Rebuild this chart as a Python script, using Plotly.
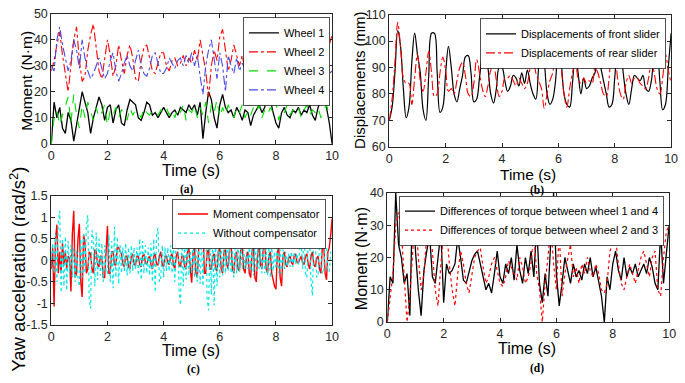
import plotly.graph_objects as go

# ---------------- data ----------------
time_s = [round(i * 0.1, 1) for i in range(101)]
time_fine = [round(i * 0.05, 2) for i in range(201)]
x_ticks = [0, 2, 4, 6, 8, 10]

# (a) wheel moments, N·m
wheel1 = [0, 16, 10, 14, 6, 4, 12, 9, 1, 7,
          14, 20, 16, 12, 4, 10, 14, 18, 15, 9,
          14, 15, 8, 13, 15, 8, 7, 13, 17, 16,
          15, 10, 9, 12, 16, 15, 11, 12, 10, 12,
          14, 12, 10, 12, 13, 11, 14, 13, 12, 15,
          13, 15, 11, 16, 2, 12, 20, 17, 10, 6,
          15, 19, 14, 12, 13, 10, 14, 12, 9, 13,
          12, 7, 11, 13, 15, 12, 14, 20, 17, 12,
          8, 6, 12, 14, 11, 10, 13, 12, 14, 11,
          13, 12, 15, 11, 9, 14, 17, 19.5, 14, 8, 0]
wheel2 = [28, 32, 38, 43, 34, 26, 20, 30, 40, 45,
          32, 24, 26, 36, 42, 46, 38, 28, 25, 33,
          40, 34, 26, 30, 38, 32, 27, 34, 38, 33,
          25, 24, 32, 37, 38, 33, 28, 27, 31, 35,
          35, 30, 28, 32, 33, 30, 31, 34, 30, 33,
          31, 36, 32, 40, 34, 28, 18, 30, 36, 32,
          41, 44, 36, 28, 32, 38, 34, 30, 34, 28,
          31, 36, 32, 28, 30, 34, 36, 30, 22, 24,
          28, 32, 34, 30, 26, 28, 30, 33, 30, 28,
          30, 35, 32, 29, 27, 32, 30, 23, 30, 38, 42]
wheel3 = [0, 10, 13, 7, 11, 15, 18, 8, 19, 11,
          6, 15, 10, 16, 12, 9, 14, 10, 12, 15,
          7, 13, 11, 14, 10, 13, 12, 9, 14, 11,
          13, 12, 10, 14, 12, 11, 13, 12, 11, 13,
          12, 14, 11, 13, 10, 14, 12, 15, 9, 13,
          12, 15, 10, 14, 11, 16, 8, 15, 12, 17,
          10, 14, 11, 15, 12, 10, 14, 12, 15, 10,
          13, 11, 14, 12, 15, 10, 13, 11, 14, 12,
          16, 9, 13, 12, 15, 11, 13, 12, 14, 10,
          13, 15, 11, 13, 12, 14, 10, 13, 15, 11, 12]
wheel4 = [30, 28, 40, 45, 38, 33, 28, 32, 40, 36,
          29, 40, 33, 28, 25, 27, 30, 33, 29, 25,
          27, 32, 35, 28, 24, 27, 31, 34, 30, 28,
          32, 36, 30, 27, 26, 29, 34, 35, 31, 27,
          27, 29, 33, 31, 29, 32, 33, 30, 34, 31,
          35, 30, 34, 26, 19, 30, 36, 40, 33, 25,
          35, 30, 20, 34, 30, 27, 33, 28, 31, 29,
          32, 35, 30, 33, 36, 30, 27, 24, 29, 22,
          27, 31, 28, 26, 30, 32, 28, 30, 27, 29,
          31, 28, 26, 30, 27, 25, 30, 33, 28, 27, 28]

# (b) slider displacements, mm
front_slider = [70, 75, 88, 104, 98, 82, 71, 75, 92, 103,
                95, 88, 74, 70, 87, 103, 103, 88, 73, 75,
                88, 98, 90, 80, 77, 82, 87, 94, 94.5, 88,
                77, 78, 86, 94, 96.5, 90, 80, 76.5, 82, 90,
                90, 85, 81, 83, 87, 86, 83, 88, 84, 89,
                84, 80, 78, 90, 98, 92, 80, 76, 78, 85,
                99, 92, 80, 76, 75, 84, 96, 88, 80, 86,
                82, 83, 86, 88, 93, 90, 85, 80, 75, 76,
                86, 96, 97, 88, 80, 76, 82, 87, 86, 85,
                87, 82, 81, 85, 94, 96, 85, 74, 76, 90, 103]
rear_slider = [70, 78, 92, 107, 98, 86, 84, 84, 76, 86,
               95, 85, 81, 88, 96, 88, 79, 80, 88, 94,
               89, 81, 82, 80, 85, 90, 92, 87, 80, 79,
               84, 93, 88, 82, 79, 83, 89, 91, 85, 79,
               81, 86, 86, 87, 85, 83, 86, 84, 82, 84,
               90, 94, 88, 85, 82, 74.5, 80, 85, 88, 98,
               100, 90, 80, 75, 82, 88, 92, 86, 84, 86,
               84, 85, 84, 90, 88, 84, 80, 79, 86, 95,
               94, 86, 80, 78, 84, 87, 84, 86, 86, 84,
               83, 82, 86, 92, 88, 82, 80, 86, 95, 89, 84]

# (c) yaw acceleration, rad/s^2 (sampled every 0.05 s)
yaw_compensator = [-0.2, 0.3, -1.07, 0.5, 0.83, -0.3, 0.2, -0.3, 0.4, -0.1,
                   0.2, -0.2, 0.1, 0.05, -0.72, 0.6, 1.15, -0.4, -0.3, 0.5,
                   0.85, -0.5, -0.85, 0.6, 0.4, -0.3, -0.2, 0.2, 0.15, -0.2,
                   -0.3, 0.25, 0.2, -0.1, -0.15, 0.1, 0.1, -0.4, -0.4, 0.3,
                   0.8, -0.3, -0.3, 0.2, 0.2, -0.1, -0.1, 0.3, 0.3, 0.2,
                   0.15, -0.1, -0.15, 0.1, 0.1, -0.15, -0.2, 0.1, 0.15, -0.1,
                   -0.1, 0.1, 0.1, -0.1, -0.15, 0.1, 0.15, -0.05, -0.1, 0.05,
                   0.1, -0.1, -0.2, 0.1, 0.15, -0.1, -0.1, 0.1, 0.2, -0.1,
                   -0.15, 0.1, 0.1, -0.05, -0.1, 0.1, 0.15, -0.1, -0.2, 0.1,
                   0.2, -0.1, -0.15, 0.1, 0.1, -0.15, -0.2, 0.2, 0.3, -0.2,
                   -0.52, 0.2, 0.3, -0.3, -0.4, 0.3, 0.4, 0.6, 0.87, -0.3,
                   -0.3, 0.2, 0.25, -0.2, -0.2, 0.1, 0.15, -0.2, -0.25, 0.2,
                   0.3, -0.2, -0.3, 0.2, 0.25, -0.1, -0.2, 0.3, 0.4, -0.2,
                   -0.3, 0.15, 0.2, -0.2, -0.25, 0.3, 0.35, -0.2, -0.3, 0.1,
                   0.2, -0.3, -0.4, 0.2, 0.3, -0.4, -0.5, 0.2, 0.3, -0.1,
                   -0.2, 0.3, 0.45, -0.2, -0.3, 0.1, 0.2, -0.3, -0.5, -0.6,
                   -0.67, 0.2, 0.3, -0.4, -0.6, 0.1, 0.2, -0.1, -0.15, 0.05,
                   0.1, -0.05, -0.1, 0.1, 0.15, -0.05, -0.05, 0.05, 0.1, -0.05,
                   -0.1, 0.1, 0.15, -0.1, -0.2, 0.1, 0.2, -0.1, -0.15, 0.05,
                   0.1, -0.2, -0.3, 0.3, 0.4, -0.3, -0.45, 0.2, 0.3, 0.6, 0.97]
yaw_without = [0, 0.4, -0.3, 0.6, -0.5, 0.9, 1.15, -0.75, 0.5, -0.6,
               0.55, -0.7, 0.45, -0.3, 0.35, -0.4, 0.3, -0.5, 0.25, -0.4,
               -0.6, 0.5, -0.4, 0.6, -0.3, 0.8, 1.05, -0.9, -1.12, 0.7,
               0.5, -0.6, 0.65, -0.45, 0.5, -0.35, 0.4, -0.5, 0.35, -0.3,
               -0.3, 0.6, -0.5, 0.45, -0.65, 0.78, -0.4, 0.55, -0.55, 0.35,
               -0.3, 0.3, -0.25, 0.4, -0.35, 0.3, -0.3, 0.35, -0.25, 0.3,
               -0.2, 0.3, -0.35, 0.5, -0.45, 0.45, -0.3, 0.35, -0.3, 0.3,
               -0.35, 0.4, -0.5, 0.5, -0.74, 0.6, 0.75, -0.5, -0.4, 0.35,
               -0.4, 0.3, -0.25, 0.3, -0.25, 0.35, -0.3, 0.4, -0.5, 0.6,
               0.86, -0.7, -1.04, 0.55, -0.6, 0.5, -0.45, 0.4, -0.35, 0.3,
               -0.3, 0.35, -0.4, 0.3, -0.5, 0.45, -0.55, 0.5, -0.6, 0.7,
               0.75, -0.9, -1.16, 0.6, -0.8, 0.55, -1.05, 0.45, -0.6, 0.4,
               -0.4, 0.45, -0.35, 0.4, -0.3, 0.35, -0.25, 0.3, -0.3, 0.25,
               -0.4, 0.35, -0.3, 0.35, -0.25, 0.3, -0.2, 0.25, -0.2, 0.2,
               -0.2, 0.3, -0.25, 0.35, -0.35, 0.4, -0.25, 0.35, -0.2, 0.3,
               -0.3, 0.25, -0.3, 0.35, -0.35, 0.3, -0.4, 0.3, -0.25, 0.2,
               -0.2, 0.35, -0.3, 0.25, -0.3, 0.25, -0.2, 0.2, -0.15, 0.15,
               -0.15, 0.2, -0.15, 0.2, -0.1, 0.15, -0.1, 0.3, 0.4, -0.2,
               0.85, -0.3, -0.4, 0.4, 0.5, -0.5, -0.82, 0.6, 0.45, -0.4,
               -0.35, 0.4, 0.4, -0.3, -0.3, 0.35, 0.35, -0.25, -0.25, 0.2, 0.1]
yaw_tickvals = [-1.5, -1, -0.5, 0, 0.5, 1, 1.5]
yaw_ticktext = ["-1.5", "-1", "-0.5", "0", "0.5", "1", "1.5"]

# (d) torque differences, N·m
diff_14 = [0, 14, 12, 40, 24, 20, 12, 15, 2, 39,
           22, 10, 2, 16, 22, 27, 14, 12, 20, 28,
           6, 18, 15, 16, 18, 26, 20, 13, 12, 16,
           19, 21, 22, 18, 14, 10, 12, 9, 15, 22,
           14, 12, 18, 15, 20, 13, 24, 16, 12, 20,
           15, 22, 14, 30, 12, 6, 15, 8, 25, 40,
           15, 5, 12, 20, 16, 12, 18, 14, 16, 13,
           18, 15, 20, 14, 17, 12, 8, 0, 14, 10,
           18, 22, 16, 13, 20, 14, 17, 15, 18, 14,
           16, 18, 15, 20, 17, 12, 10, 28, 12, 22, 30]
diff_23 = [0, 8, 15, 30, 34, 28, 15, 0, 8, 22,
           35, 20, 10, 15, 27, 30, 22, 10, 5, 18,
           28, 30, 18, 10, 5, 15, 22, 18, 12, 9,
           15, 20, 22, 23, 17, 12, 14, 18, 20, 16,
           12, 11, 14, 19, 17, 15, 13, 20, 17, 12,
           14, 18, 28, 15, 10, 0, 12, 20, 30, 18,
           10, 28, 8, 15, 20, 24, 14, 17, 12, 18,
           15, 20, 16, 14, 18, 15, 10, 9, 12, 22,
           24, 26, 18, 12, 10, 14, 18, 15, 12, 16,
           20, 22, 18, 14, 20, 22, 10, 8, 20, 28, 30]

# ---------------- styling ----------------
W, H = 685, 383
FONT = "Liberation Sans, Arial, sans-serif"
INK = "#262626"


def fx(px):
    return px / W


def fy(py):
    return 1 - py / H


fig = go.Figure()

# (a)
fig.add_trace(go.Scatter(x=time_s, y=wheel1, name="Wheel 1", mode="lines",
                         line=dict(color="black", width=1.3), xaxis="x", yaxis="y", legend="legend"))
fig.add_trace(go.Scatter(x=time_s, y=wheel2, name="Wheel 2", mode="lines",
                         line=dict(color="#ff0000", width=1.1, dash="dashdot"), xaxis="x", yaxis="y", legend="legend"))
fig.add_trace(go.Scatter(x=time_s, y=wheel3, name="Wheel 3", mode="lines",
                         line=dict(color="#00dd00", width=1.1, dash="dash"), xaxis="x", yaxis="y", legend="legend"))
fig.add_trace(go.Scatter(x=time_s, y=wheel4, name="Wheel 4", mode="lines",
                         line=dict(color="#4a4ae6", width=1.1, dash="dashdot"), xaxis="x", yaxis="y", legend="legend"))

# (b)
fig.add_trace(go.Scatter(x=time_s, y=front_slider, name="Displacements of front slider", mode="lines",
                         line=dict(color="black", width=1.2, shape="spline"), xaxis="x2", yaxis="y2", legend="legend2"))
fig.add_trace(go.Scatter(x=time_s, y=rear_slider, name="Displacements of rear slider", mode="lines",
                         line=dict(color="#ff0000", width=1.1, dash="dashdot", shape="spline"),
                         xaxis="x2", yaxis="y2", legend="legend2"))

# (c)
fig.add_trace(go.Scatter(x=time_fine, y=yaw_compensator, name="Moment compensator", mode="lines",
                         line=dict(color="#ff0000", width=1.4), xaxis="x3", yaxis="y3", legend="legend3"))
fig.add_trace(go.Scatter(x=time_fine, y=yaw_without, name="Without compensator", mode="lines",
                         line=dict(color="#00e5e5", width=1.2, dash="dot"), xaxis="x3", yaxis="y3", legend="legend3"))

# (d)
fig.add_trace(go.Scatter(x=time_s, y=diff_14, name="Differences of torque between wheel 1 and 4", mode="lines",
                         line=dict(color="black", width=1.3), xaxis="x4", yaxis="y4", legend="legend4"))
fig.add_trace(go.Scatter(x=time_s, y=diff_23, name="Differences of torque between wheel 2 and 3", mode="lines",
                         line=dict(color="#ff0000", width=1.2, dash="dot"), xaxis="x4", yaxis="y4", legend="legend4"))

axis_common = dict(showline=True, linecolor=INK, linewidth=1, mirror="ticks", ticks="inside",
                   ticklen=4, tickcolor=INK, showgrid=False, zeroline=False,
                   tickfont=dict(family=FONT, size=12.5, color=INK))

boxes = {
    "1": dict(x=(49, 334), y=(7, 142)),
    "2": dict(x=(392, 678), y=(8, 145)),
    "3": dict(x=(49, 334), y=(196, 330)),
    "4": dict(x=(390, 676), y=(193, 327)),
}
yranges = {"1": [0, 50], "2": [60, 110], "3": [-1.5, 1.5], "4": [0, 40]}

layout = dict(width=W, height=H, margin=dict(l=0, r=0, t=0, b=0),
              paper_bgcolor="white", plot_bgcolor="white", font=dict(family=FONT, color=INK))
for k, b in boxes.items():
    xs = "" if k == "1" else k
    layout["xaxis" + xs] = dict(axis_common, domain=[fx(b["x"][0]), fx(b["x"][1])], range=[0, 10],
                                tickvals=x_ticks, anchor="y" + xs)
    yax = dict(axis_common, domain=[fy(b["y"][1]), fy(b["y"][0])], range=yranges[k], anchor="x" + xs)
    if k == "3":
        yax.update(tickvals=yaw_tickvals, ticktext=yaw_ticktext)
    else:
        yax.update(dtick=10)
    layout["yaxis" + xs] = yax

legend_common = dict(xanchor="right", yanchor="top", bgcolor="white", bordercolor=INK, borderwidth=0.8,
                     font=dict(family=FONT, size=11, color="black"), itemwidth=30,
                     tracegroupgap=0)
layout["legend"] = dict(legend_common, x=fx(332), y=fy(11))
layout["legend2"] = dict(legend_common, x=fx(673), y=fy(12))
layout["legend3"] = dict(legend_common, x=fx(328), y=fy(199))
layout["legend4"] = dict(legend_common, x=fx(671), y=fy(196))

fig.update_layout(**layout)

annots = [
    # y titles
    dict(text="Moment (N·m)", x=24, y=77, angle=-90, size=15.5),
    dict(text="Displacements (mm)", x=361, y=76, angle=-90, size=15),
    dict(text="Yaw acceleration (rad/s<sup>2</sup>)", x=15, y=272, angle=-90, size=18.5),
    dict(text="Moment (N·m)", x=364, y=261, angle=-90, size=16),
    # x titles
    dict(text="Time (s)", x=191, y=170, angle=0, size=16),
    dict(text="Time (s)", x=533, y=174, angle=0, size=15.5),
    dict(text="Time (s)", x=191, y=357, angle=0, size=16),
    dict(text="Time (s)", x=532, y=354, angle=0, size=16),
]
for a in annots:
    fig.add_annotation(text=a["text"], x=fx(a["x"]), y=fy(a["y"]), xref="paper", yref="paper",
                       showarrow=False, textangle=a["angle"], xanchor="center", yanchor="middle",
                       font=dict(family=FONT, size=a["size"], color="black"))

for lab, x, y in [("(a)", 187, 189), ("(b)", 542, 190.5), ("(c)", 193, 376), ("(d)", 542, 375)]:
    fig.add_annotation(text="<b>" + lab + "</b>", x=fx(x), y=fy(y), xref="paper", yref="paper",
                       showarrow=False, xanchor="center", yanchor="middle",
                       font=dict(family="Liberation Serif, Times New Roman, serif", size=11.5, color="black"))

fig.write_html("out.html", config={"displayModeBar": False},
               post_script="document.body.style.margin='0';document.body.style.overflow='hidden';")
